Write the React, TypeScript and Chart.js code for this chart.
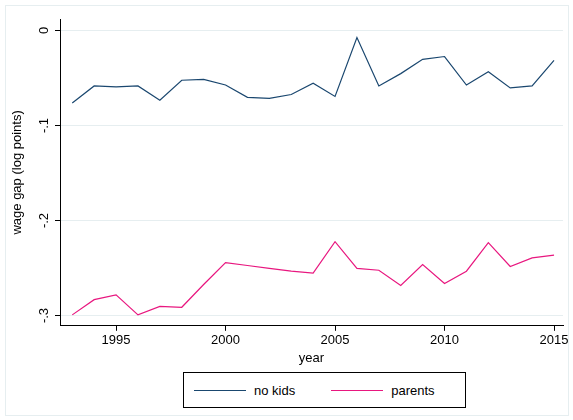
import React, { useEffect, useRef } from "react";
import { Chart, registerables } from "chart.js";
Chart.register(...registerables);

const years = [1993,1994,1995,1996,1997,1998,1999,2000,2001,2002,2003,2004,2005,2006,2007,2008,2009,2010,2011,2012,2013,2014,2015];
const noKids = [-0.077,-0.059,-0.060,-0.059,-0.074,-0.053,-0.052,-0.058,-0.071,-0.072,-0.068,-0.056,-0.070,-0.008,-0.059,-0.046,-0.031,-0.028,-0.058,-0.044,-0.061,-0.059,-0.032];
const parents = [-0.300,-0.284,-0.279,-0.300,-0.291,-0.292,-0.268,-0.245,-0.248,-0.251,-0.254,-0.256,-0.223,-0.251,-0.253,-0.269,-0.247,-0.267,-0.254,-0.224,-0.249,-0.240,-0.237];
const xTicks = [1995, 2000, 2005, 2010, 2015];
const yTicks = [0, -0.1, -0.2, -0.3];
const yTickLabels = ["0", "-.1", "-.2", "-.3"];
const NAVY = "#1a476f";
const PINK = "#e8177f";
const GRID = "#e6eef0";
const FONT = "Liberation Sans, Arial, sans-serif";

export default function App() {
  const ref = useRef<HTMLCanvasElement>(null);
  useEffect(() => {
    const frame = {
      id: "frame",
      beforeDatasetsDraw(c: any) {
        const { ctx, chartArea: a, scales } = c;
        ctx.save();
        ctx.strokeStyle = GRID;
        ctx.lineWidth = 1;
        yTicks.forEach((v) => {
          const py = Math.round(scales.y.getPixelForValue(v)) + 0.5;
          ctx.beginPath();
          ctx.moveTo(a.left, py);
          ctx.lineTo(a.right, py);
          ctx.stroke();
        });
        ctx.restore();
      },
      afterDraw(c: any) {
        const { ctx, chartArea: a, scales } = c;
        ctx.save();
        ctx.strokeStyle = "#000";
        ctx.lineWidth = 1;
        ctx.beginPath();
        ctx.moveTo(a.left + 0.5, a.top);
        ctx.lineTo(a.left + 0.5, a.bottom);
        ctx.stroke();
        const y = scales.y;
        ctx.fillStyle = "#000";
        ctx.font = `13px ${FONT}`;
        ctx.textAlign = "center";
        ctx.textBaseline = "bottom";
        yTicks.forEach((v, i) => {
          const py = Math.round(y.getPixelForValue(v)) + 0.5;
          ctx.beginPath();
          ctx.moveTo(a.left - 5, py);
          ctx.lineTo(a.left, py);
          ctx.stroke();
          ctx.save();
          ctx.translate(a.left - 9, py);
          ctx.rotate(-Math.PI / 2);
          ctx.fillText(yTickLabels[i], 0, 0);
          ctx.restore();
        });
        ctx.save();
        ctx.translate(24, (a.top + a.bottom) / 2);
        ctx.rotate(-Math.PI / 2);
        ctx.fillText("wage gap (log points)", 0, 0);
        ctx.restore();
        ctx.restore();
      },
    };
    const chart = new Chart(ref.current!, {
      type: "line",
      data: {
        datasets: [
          { label: "no kids", data: years.map((x, i) => ({ x, y: noKids[i] })), borderColor: NAVY, borderWidth: 1.2, pointRadius: 0, tension: 0 },
          { label: "parents", data: years.map((x, i) => ({ x, y: parents[i] })), borderColor: PINK, borderWidth: 1.2, pointRadius: 0, tension: 0 },
        ],
      },
      options: {
        animation: false,
        responsive: false,
        layout: { padding: { top: 19, right: 10, left: 0, bottom: 0 } },
        plugins: { legend: { display: false }, tooltip: { enabled: false } },
        scales: {
          x: {
            type: "linear", min: 1992.44, max: 2015.41,
            afterBuildTicks: (s: any) => { s.ticks = xTicks.map(v => ({ value: v })); },
            grid: { drawOnChartArea: false, tickLength: 5, color: "#000" },
            border: { color: "#000" },
            ticks: { color: "#000", font: { size: 13, family: FONT }, padding: 2, maxRotation: 0, callback: (v: any) => String(v) },
            title: { display: true, text: "year", color: "#000", font: { size: 13, family: FONT }, padding: 0 },
          },
          y: {
            min: -0.3115, max: 0.0115,
            afterFit: (s: any) => { s.width = 60; },
            grid: { display: false },
            border: { display: false },
            ticks: { display: false },
          },
        },
      },
      plugins: [frame],
    });
    return () => chart.destroy();
  }, []);
  return (
    <div style={{ position: "fixed", left: 0, top: 0, width: 573, height: 420, background: "#fff", fontFamily: FONT }}>
      <div style={{ position: "absolute", left: 5, top: 5, width: 564, height: 411, border: `1px solid ${GRID}`, boxSizing: "border-box" }} />
      <canvas ref={ref} width={573} height={366} style={{ display: "block", position: "relative" }} />
      <div style={{ position: "absolute", left: 183, top: 372, width: 283, height: 36, border: "1px solid #000", boxSizing: "border-box", display: "flex", alignItems: "center", fontSize: 13, background: "#fff" }}>
        <span style={{ display: "inline-block", width: 52, height: 0, borderTop: `1.2px solid ${NAVY}`, marginLeft: 10, marginRight: 8 }} />
        <span>no kids</span>
        <span style={{ display: "inline-block", width: 52, height: 0, borderTop: `1.2px solid ${PINK}`, marginLeft: 36, marginRight: 8 }} />
        <span>parents</span>
      </div>
    </div>
  );
}
